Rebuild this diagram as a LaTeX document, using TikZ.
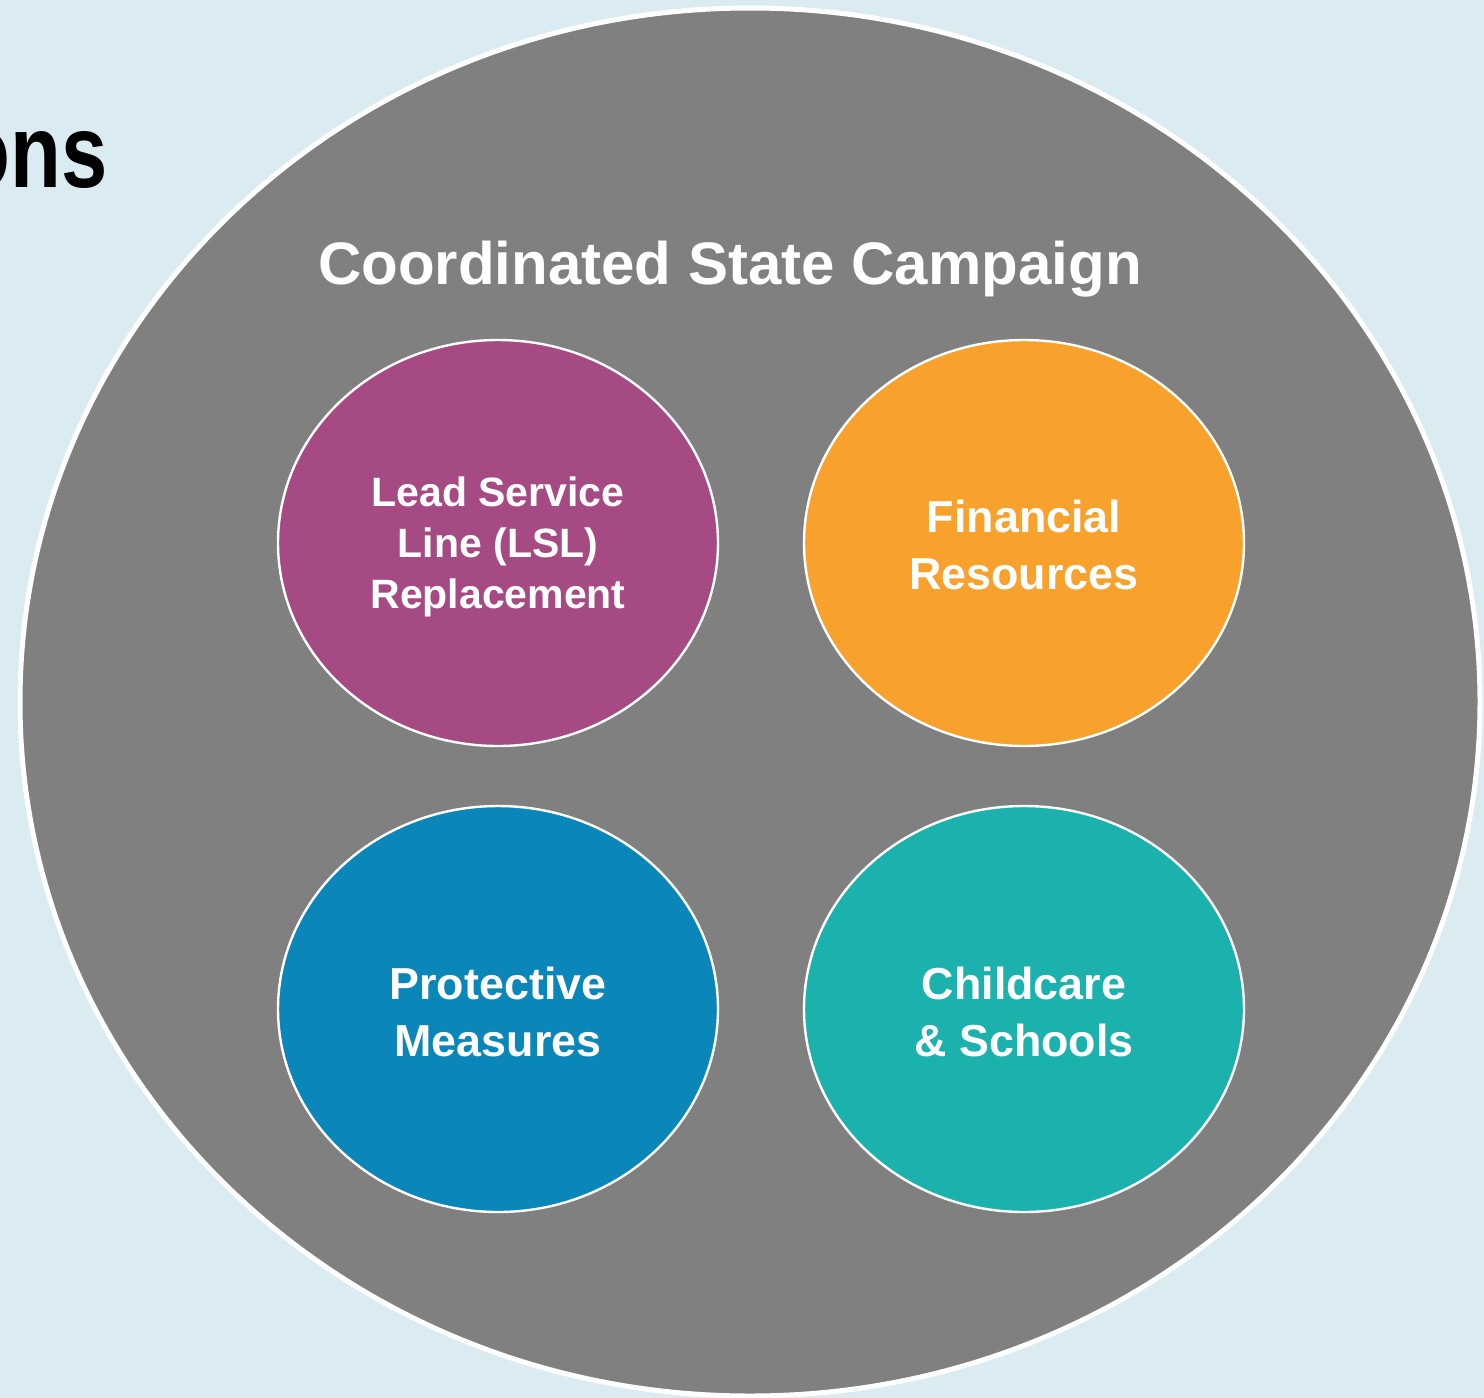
\documentclass[tikz,border=0pt]{standalone}
\usepackage{fontspec}
\setmainfont{Liberation Sans}
\usetikzlibrary{shapes.geometric}
\definecolor{bgblue}{HTML}{DAEBF2}
\definecolor{outergray}{HTML}{808080}
\definecolor{cpurple}{HTML}{A64A84}
\definecolor{corange}{HTML}{F8A12D}
\definecolor{cblue}{HTML}{0A87B8}
\definecolor{cteal}{HTML}{1BB2AE}
\tikzset{
  bubble/.style={ellipse, draw=white, line width=1.2pt, minimum width=220pt, minimum height=203pt, inner sep=0pt},
  btext/.style={text=white, inner sep=0pt, align=center, font=\bfseries\fontsize{22.4}{28.5}\selectfont},
}
\begin{document}
\begin{tikzpicture}[x=0.5pt,y=-0.5pt]
\useasboundingbox (0,0) rectangle (1484,1398);
\clip (0,0) rectangle (1484,1398);
\fill[bgblue] (0,0) rectangle (1484,1398);
\node[anchor=base east, font=\bfseries\fontsize{52}{60}\selectfont, inner sep=0pt] (title) at (108,187) {\scalebox{0.8}[1]{ons}};
\node[ellipse, fill=outergray, draw=white, line width=2.5pt, minimum width=730pt, minimum height=694pt, inner sep=0pt] (outer) at (750,702) {};
\node[text=white, font=\bfseries\fontsize{30}{36}\selectfont, inner sep=0pt] (camp) at (730,269) {Coordinated State Campaign};
\node[bubble, fill=cpurple] (lsl) at (498,543) {};
\node[bubble, fill=corange] (fin) at (1024,543) {};
\node[bubble, fill=cblue] (prot) at (498,1009) {};
\node[bubble, fill=cteal] (child) at (1024,1009) {};
\node[btext, font=\bfseries\fontsize{20.5}{25.5}\selectfont] (lslt) at (498,547) {Lead Service\\Line (LSL)\\Replacement};
\node[btext] (fint) at (1024,545) {Financial\\Resources};
\node[btext] (prott) at (498,1012) {Protective\\Measures};
\node[btext] (childt) at (1024,1012) {Childcare\\\& Schools};
\end{tikzpicture}
\end{document}
